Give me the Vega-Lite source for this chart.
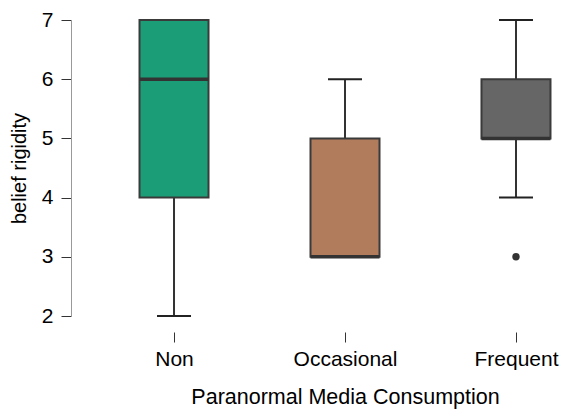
{
  "$schema": "https://vega.github.io/schema/vega-lite/v6.json",
  "autosize": {"type": "none"},
  "padding": {"left": 134, "top": 20, "right": 6, "bottom": 96},
  "width": 422,
  "height": 296,
  "config": {"view": {"stroke": null}, "font": "Liberation Sans"},
  "datasets": {
    "stats": [
      {"group": "Non", "lower": 2, "q1": 4, "median": 6, "q3": 7, "upper": 7},
      {"group": "Occasional", "lower": 3, "q1": 3, "median": 3, "q3": 5, "upper": 6},
      {"group": "Frequent", "lower": 4, "q1": 5, "median": 5, "q3": 6, "upper": 7}
    ],
    "outliers": [
      {"group": "Frequent", "value": 3}
    ]
  },
  "layer": [
    {
      "data": {"name": "stats"},
      "mark": {"type": "rule", "stroke": "#333333", "strokeWidth": 2},
      "encoding": {
        "x": {"field": "group", "type": "nominal"},
        "y": {"field": "lower", "type": "quantitative"},
        "y2": {"field": "upper"}
      }
    },
    {
      "data": {"name": "stats"},
      "mark": {"type": "tick", "color": "#222222", "thickness": 2, "size": 34, "orient": "horizontal", "opacity": 1},
      "encoding": {
        "x": {"field": "group", "type": "nominal"},
        "y": {"field": "lower", "type": "quantitative"}
      }
    },
    {
      "data": {"name": "stats"},
      "mark": {"type": "tick", "color": "#222222", "thickness": 2, "size": 34, "orient": "horizontal", "opacity": 1},
      "encoding": {
        "x": {"field": "group", "type": "nominal"},
        "y": {"field": "upper", "type": "quantitative"}
      }
    },
    {
      "data": {"name": "stats"},
      "mark": {"type": "bar", "size": 69, "stroke": "#3a3a3a", "strokeWidth": 2},
      "encoding": {
        "x": {"field": "group", "type": "nominal"},
        "y": {"field": "q1", "type": "quantitative"},
        "y2": {"field": "q3"},
        "fill": {
          "field": "group",
          "type": "nominal",
          "scale": {"domain": ["Non", "Occasional", "Frequent"], "range": ["#1b9e77", "#b07c5c", "#666666"]},
          "legend": null
        }
      }
    },
    {
      "data": {"name": "stats"},
      "mark": {"type": "tick", "color": "#333333", "thickness": 3.5, "size": 69, "orient": "horizontal", "opacity": 1},
      "encoding": {
        "x": {"field": "group", "type": "nominal"},
        "y": {"field": "median", "type": "quantitative"}
      }
    },
    {
      "data": {"name": "outliers"},
      "mark": {"type": "circle", "color": "#333333", "size": 55, "opacity": 1},
      "encoding": {
        "x": {"field": "group", "type": "nominal"},
        "y": {"field": "value", "type": "quantitative"}
      }
    }
  ],
  "encoding": {
    "x": {
      "field": "group",
      "type": "nominal",
      "sort": ["Non", "Occasional", "Frequent"],
      "scale": {"type": "point", "padding": 0.234},
      "axis": {
        "title": "Paranormal Media Consumption",
        "labelAngle": 0,
        "domain": false,
        "offset": 16,
        "tickColor": "#333333",
        "tickSize": 10,
        "tickWidth": 1,
        "labelFontSize": 21,
        "labelColor": "#000000",
        "labelPadding": 6,
        "titleFontSize": 21.5,
        "titleFontWeight": "normal",
        "titleColor": "#000000",
        "titlePadding": 17
      }
    },
    "y": {
      "type": "quantitative",
      "scale": {"domain": [2, 7], "nice": false, "zero": false},
      "axis": {
        "title": "belief rigidity",
        "values": [2, 3, 4, 5, 6, 7],
        "grid": false,
        "offset": 63,
        "domainColor": "#999999",
        "domainWidth": 1,
        "tickColor": "#333333",
        "tickSize": 10,
        "tickWidth": 1,
        "labelFontSize": 21,
        "labelColor": "#000000",
        "labelPadding": 8,
        "titleFontSize": 20,
        "titleFontWeight": "normal",
        "titleColor": "#000000",
        "titlePadding": 12
      }
    }
  }
}
